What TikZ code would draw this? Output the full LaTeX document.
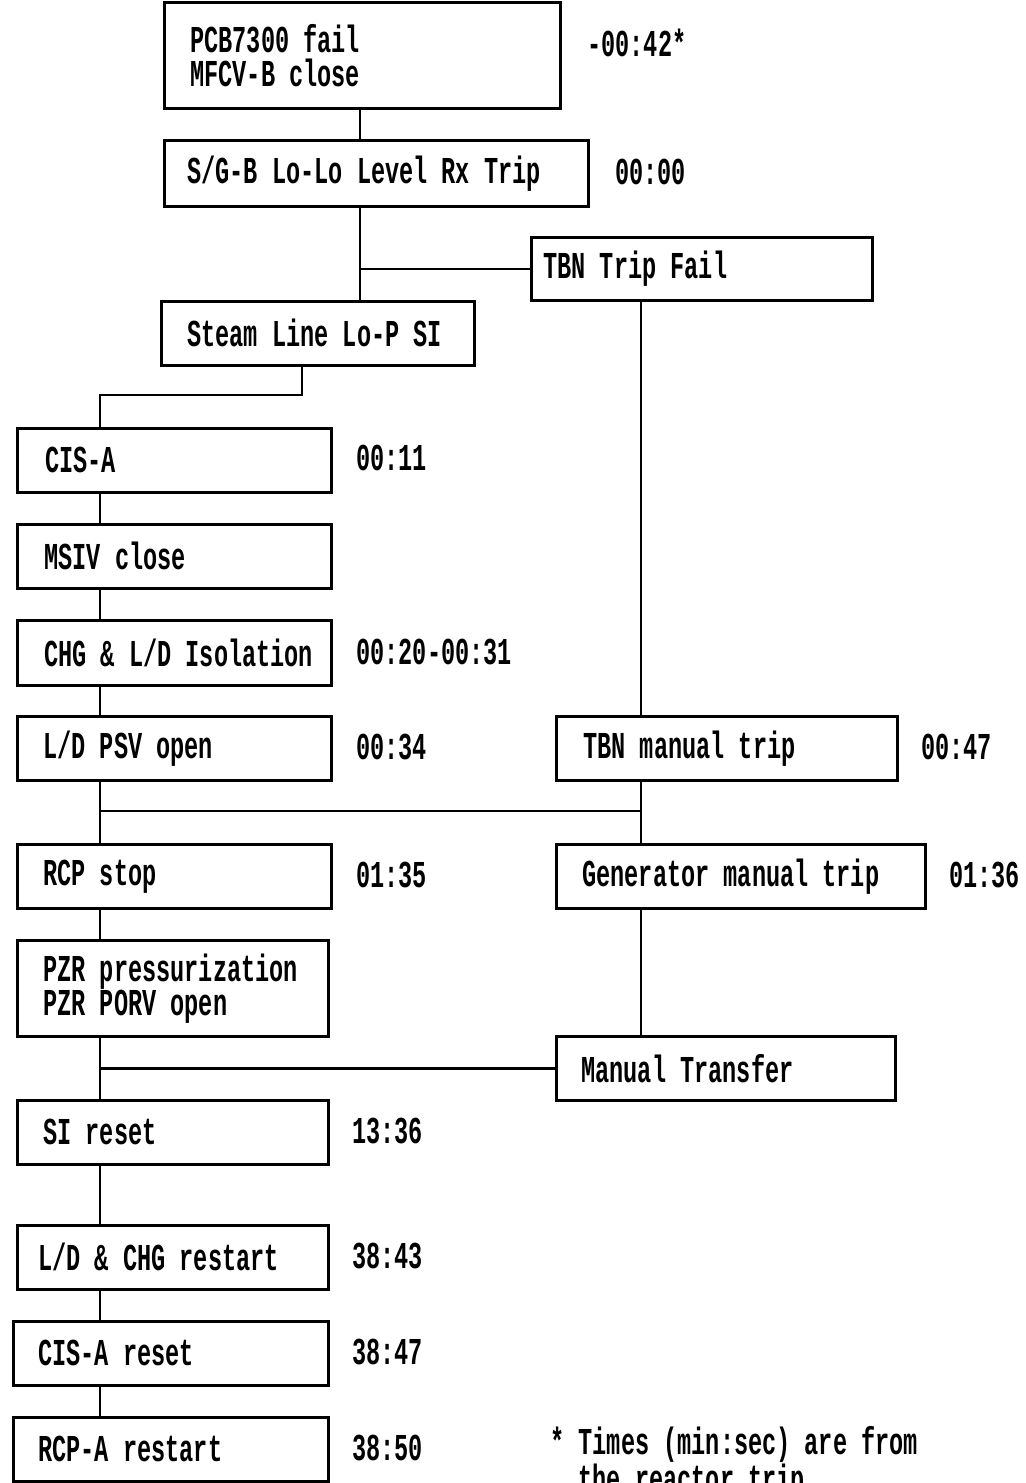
\documentclass[tikz,border=0pt]{standalone}
\usepackage{fontspec}
\newfontfamily\evfont[FakeStretch=0.62]{Liberation Mono}
\usetikzlibrary{positioning, calc}

\begin{document}
\begin{tikzpicture}[x=0.5pt, y=-0.5pt,
    evbox/.style={draw, line width=1.3pt, anchor=north west, inner sep=0pt},
    evtext/.style={inner sep=0pt, align=left, font={\evfont\bfseries\fontsize{19}{17}\selectfont}},
    link/.style={line width=1.3pt}]

    \useasboundingbox (0,0) rectangle (1026,1483);
    \clip (0,0) rectangle (1026,1483);

    % spines
    \coordinate (msp) at (360,0);
    \coordinate (lsp) at (100,0);
    \coordinate (rsp) at (641,0);
    \coordinate (sbend) at (302,395);
    \coordinate (jn1) at (641,811);

    % top chain
    \node[evbox, minimum width=198pt, minimum height=53pt] (b1) at (163,1) {};
    \node[evtext, right=13.5pt of b1.west] (b1t) {PCB7300 fail\\MFCV-B close};
    \node[evbox, minimum width=212pt, minimum height=33pt] (b2) at (163,139) {};
    \node[evtext, right=12pt of b2.west] (b2t) {S/G-B Lo-Lo Level Rx Trip};
    \node[evbox, minimum width=170.5pt, minimum height=31.5pt] (b3) at (530,236) {};
    \node[evtext, right=6.5pt of b3.west] (b3t) {TBN Trip Fail};
    \node[evbox, minimum width=156.5pt, minimum height=32pt] (b4) at (160,300) {};
    \node[evtext, right=13.5pt of b4.west] (b4t) {Steam Line Lo-P SI};

    % left column
    \node[evbox, minimum width=157pt, minimum height=32pt] (b5) at (16,427) {};
    \node[evtext, right=14.5pt of b5.west] (b5t) {CIS-A};
    \node[evbox, minimum width=157pt, minimum height=32pt] (b6) at (16,523) {};
    \node[evtext, right=14pt of b6.west] (b6t) {MSIV close};
    \node[evbox, minimum width=157pt, minimum height=32.5pt] (b7) at (16,619) {};
    \node[evtext, right=14pt of b7.west] (b7t) {CHG \& L/D Isolation};
    \node[evbox, minimum width=157pt, minimum height=32pt] (b8) at (16,715) {};
    \node[evtext, right=13.5pt of b8.west] (b8t) {L/D PSV open};
    \node[evbox, minimum width=157pt, minimum height=32pt] (b10) at (16,843) {};
    \node[evtext, right=13.5pt of b10.west] (b10t) {RCP stop};
    \node[evbox, minimum width=155.5pt, minimum height=48pt] (b12) at (16,939) {};
    \node[evtext, right=13.5pt of b12.west] (b12t) {PZR pressurization\\PZR PORV open};
    \node[evbox, minimum width=155.5pt, minimum height=32pt] (b14) at (16,1099) {};
    \node[evtext, right=13.5pt of b14.west] (b14t) {SI reset};
    \node[evbox, minimum width=155.5pt, minimum height=32pt] (b15) at (16,1224) {};
    \node[evtext, right=11pt of b15.west] (b15t) {L/D \& CHG restart};
    \node[evbox, minimum width=157.5pt, minimum height=32pt] (b16) at (12,1320) {};
    \node[evtext, right=13pt of b16.west] (b16t) {CIS-A reset};
    \node[evbox, minimum width=157.5pt, minimum height=32pt] (b17) at (12,1416) {};
    \node[evtext, right=13pt of b17.west] (b17t) {RCP-A restart};

    % right column
    \node[evbox, minimum width=170.5pt, minimum height=32pt] (b9) at (555,715) {};
    \node[evtext, right=14pt of b9.west] (b9t) {TBN manual trip};
    \node[evbox, minimum width=184.5pt, minimum height=32pt] (b11) at (555,843) {};
    \node[evtext, right=13.5pt of b11.west] (b11t) {Generator manual trip};
    \node[evbox, minimum width=169.5pt, minimum height=32pt] (b13) at (555,1035) {};
    \node[evtext, right=13pt of b13.west] (b13t) {Manual Transfer};

    % times
    \node[evtext, anchor=west] (t1) at (587,43) {-00:42*};
    \node[evtext, anchor=west] (t2) at (615,172) {00:00};
    \node[evtext, anchor=west] (t5) at (356,458) {00:11};
    \node[evtext, anchor=west] (t7) at (356,652) {00:20-00:31};
    \node[evtext, anchor=west] (t8) at (356,747) {00:34};
    \node[evtext, anchor=west] (t9) at (921,747) {00:47};
    \node[evtext, anchor=west] (t10) at (356,875) {01:35};
    \node[evtext, anchor=west] (t11) at (949,875) {01:36};
    \node[evtext, anchor=west] (t14) at (352,1131) {13:36};
    \node[evtext, anchor=west] (t15) at (352,1256) {38:43};
    \node[evtext, anchor=west] (t16) at (352,1352) {38:47};
    \node[evtext, anchor=west] (t17) at (352,1448) {38:50};
    \node[evtext, anchor=west] (note) at (550,1463) {* Times (min:sec) are from\\\phantom{* }the reactor trip};

    % connectors
    \draw[link] (b1.south -| msp) -- (b2.north -| msp);
    \draw[link] (b2.south -| msp) -- (b4.north -| msp);
    \draw[link] (b3.west) -- (b3.west -| msp);
    \draw[link] (b4.south -| sbend) -- (sbend) -- (sbend -| lsp) -- (b5.north -| lsp);
    \foreach \a/\b in {b5/b6, b6/b7, b7/b8, b8/b10, b10/b12, b12/b14, b14/b15, b15/b16, b16/b17}
      \draw[link] (\a.south -| lsp) -- (\b.north -| lsp);
    \foreach \a/\b in {b3/b9, b9/b11, b11/b13}
      \draw[link] (\a.south -| rsp) -- (\b.north -| rsp);
    \draw[link] (jn1 -| lsp) -- (jn1);
    \draw[link] (b13.west) -- (b13.west -| lsp);
\end{tikzpicture}
\end{document}
